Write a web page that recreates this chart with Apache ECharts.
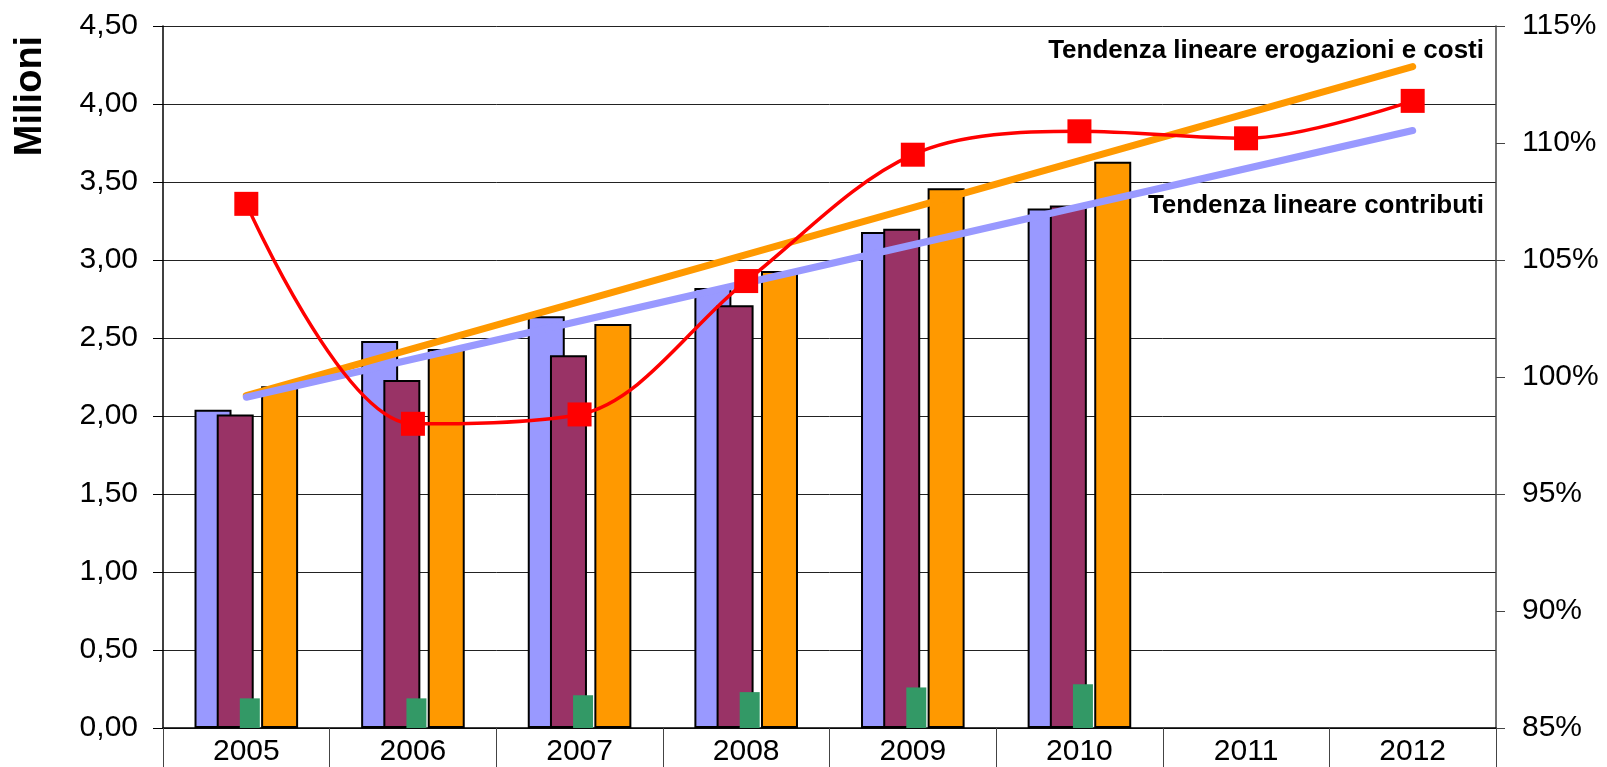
<!DOCTYPE html>
<html>
<head>
<meta charset="utf-8">
<script src="https://cdn.jsdelivr.net/npm/echarts@6/dist/echarts.min.js"></script>
<style>
    html, body { margin: 0; padding: 0; background: #fff; }
    #chart { width: 1607px; height: 767px; }
</style>
</head>
<body>
<div id="chart"></div>
<script>
// anni
var years = ['2005', '2006', '2007', '2008', '2009', '2010', '2011', '2012'];
// milioni
var contributi = [2.04, 2.48, 2.64, 2.82, 3.18, 3.33, null, null];
var erogazioni = [2.01, 2.23, 2.39, 2.71, 3.20, 3.35, null, null];
var altri = [0.19, 0.19, 0.21, 0.23, 0.26, 0.28, null, null];
var costi = [2.19, 2.43, 2.59, 2.93, 3.46, 3.63, null, null];
// percentuale (asse destro)
var rapporto = [107.4, 98.0, 98.4, 104.1, 109.5, 110.5, 110.2, 111.8];
// tendenze lineari: solo gli estremi
var trendCosti = [2.13, null, null, null, null, null, null, 4.24];
var trendContributi = [2.12, null, null, null, null, null, null, 3.83];
var yTicks = { min: 0, max: 4.5, interval: 0.5 };
var pTicks = { min: 85, max: 115, interval: 5 };

var font = 'Liberation Sans, Arial, sans-serif';
var empty = years.map(function () { return null; });
var barBorder = { borderColor: '#000', borderWidth: 2 };

var myChart = echarts.init(document.getElementById('chart'));
var option = {
    animation: false,
    backgroundColor: '#fff',
    grid: { left: 163, right: 111, top: 26, bottom: 39 },
    xAxis: [
        {
            type: 'category',
            data: years,
            axisLine: { lineStyle: { color: '#000', width: 1.5 } },
            axisTick: { show: true, length: 39, lineStyle: { color: '#444', width: 1 } },
            axisLabel: { fontSize: 30, color: '#000', fontFamily: font, margin: 9 }
        },
        {
            type: 'category',
            data: years,
            show: false
        }
    ],
    yAxis: [
        {
            type: 'value',
            min: yTicks.min,
            max: yTicks.max,
            interval: yTicks.interval,
            axisLine: { show: true, lineStyle: { color: '#000', width: 1.5 } },
            axisTick: { show: true, length: 10, lineStyle: { color: '#000' } },
            axisLabel: {
                fontSize: 30, color: '#000', fontFamily: font, margin: 25,
                formatter: function (v) { return v.toFixed(2).replace('.', ','); }
            },
            splitLine: { show: true, lineStyle: { color: '#222', width: 1 } }
        },
        {
            type: 'value',
            position: 'right',
            min: pTicks.min,
            max: pTicks.max,
            interval: pTicks.interval,
            axisLine: { show: true, lineStyle: { color: '#444', width: 1.5 } },
            axisTick: { show: true, length: 9, lineStyle: { color: '#444' } },
            axisLabel: { fontSize: 30, color: '#000', fontFamily: font, margin: 26, formatter: '{value}%' },
            splitLine: { show: false }
        }
    ],
    graphic: [
        {
            type: 'text', x: 31, y: 96, rotation: Math.PI / 2,
            style: { text: 'Milioni', font: 'bold 38px ' + font, fill: '#000', textAlign: 'center', textVerticalAlign: 'middle' }
        },
        {
            type: 'text', x: 1484, y: 51, z: 10,
            style: { text: 'Tendenza lineare erogazioni e costi', font: 'bold 26px ' + font, fill: '#000', textAlign: 'right', textVerticalAlign: 'middle' }
        },
        {
            type: 'text', x: 1484, y: 206, z: 10,
            style: { text: 'Tendenza lineare contributi', font: 'bold 26px ' + font, fill: '#000', textAlign: 'right', textVerticalAlign: 'middle' }
        }
    ],
    series: [
        { type: 'bar', data: contributi, barWidth: 37, barGap: '-40%', itemStyle: Object.assign({ color: '#9999FF' }, barBorder) },
        { type: 'bar', data: erogazioni, barWidth: 37, barGap: '-40%', itemStyle: Object.assign({ color: '#993366' }, barBorder) },
        // posto vuoto per la barra verde
        { type: 'bar', data: empty, barWidth: 37, barGap: '-40%', itemStyle: { color: 'transparent' } },
        { type: 'bar', data: empty, xAxisIndex: 1, barWidth: 7, barGap: '0%', itemStyle: { color: 'transparent' } },
        { type: 'bar', data: altri, xAxisIndex: 1, barWidth: 20, barGap: '0%', itemStyle: { color: '#339966' } },
        { type: 'bar', data: costi, barWidth: 37, barGap: '-40%', itemStyle: Object.assign({ color: '#FF9900' }, barBorder) },
        {
            type: 'line', data: trendCosti, connectNulls: true, symbol: 'none',
            lineStyle: { color: '#FF9900', width: 7, cap: 'round' }
        },
        {
            type: 'line', data: trendContributi, connectNulls: true, symbol: 'none',
            lineStyle: { color: '#9999FF', width: 7, cap: 'round' }
        },
        {
            type: 'line', data: rapporto, yAxisIndex: 1, smooth: 0.33,
            symbol: 'rect', symbolSize: 24,
            itemStyle: { color: '#FF0000' },
            lineStyle: { color: '#FF0000', width: 3.5 }
        }
    ]
};
myChart.setOption(option);
</script>
</body>
</html>
